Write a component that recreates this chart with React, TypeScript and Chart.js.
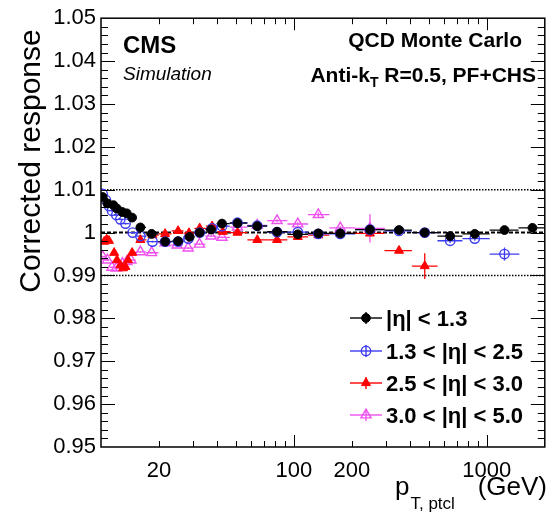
import React, { useEffect, useRef } from 'react';
import { Chart, registerables } from 'chart.js';

Chart.register(...registerables);

const FONT = "'Liberation Sans', Arial, Helvetica, sans-serif";

// ---------- data ----------
// |eta| < 1.3
const ptBarrel = [10.2, 10.8, 11.6, 12.1, 12.9, 13.6, 14.5, 16.0, 18.3, 21.5, 25.1, 28.8, 32.5, 37.2, 42.4, 51.0, 64.6, 81.8, 104.8, 133.9, 174, 248, 351, 477, 646, 867, 1236, 1726];
const respBarrel = [1.0083, 1.0068, 1.0064, 1.0056, 1.0048, 1.0045, 1.0035, 1.0012, 0.9997, 0.9979, 0.998, 0.999, 1.0, 1.0007, 1.0021, 1.0022, 1.0015, 1.0002, 0.9996, 0.9998, 0.9998, 1.0007, 1.0006, 1.0, 0.9992, 0.9997, 1.0006, 1.0011];
const errBarrel = [0.0002, 0.0002, 0.0002, 0.0002, 0.0002, 0.0002, 0.0002, 0.0002, 0.0002, 0.0002, 0.0002, 0.0002, 0.0002, 0.0002, 0.0002, 0.0002, 0.0002, 0.0002, 0.0002, 0.0002, 0.0002, 0.0002, 0.0002, 0.0002, 0.0003, 0.0003, 0.0003, 0.0005];

// 1.3 < |eta| < 2.5
const ptEndcap = [10.2, 10.6, 11.0, 11.4, 12.0, 12.6, 13.4, 14.6, 16.0, 18.5, 21.5, 25.1, 28.4, 32.5, 37.7, 42.4, 51.0, 64.6, 81.8, 104.8, 133.9, 174, 248, 351, 477, 646, 867, 1236];
const respEndcap = [1.009, 1.0076, 1.0062, 1.0051, 1.0041, 1.0031, 1.0021, 1.0, 0.9992, 0.9979, 0.9979, 0.9979, 0.9986, 1.0, 1.001, 1.0015, 1.0023, 1.0016, 1.0001, 1.0001, 0.9997, 0.9997, 1.0007, 1.0004, 1.0, 0.9981, 0.9986, 0.995];
const errEndcap = [0.0002, 0.0002, 0.0002, 0.0002, 0.0002, 0.0002, 0.0002, 0.0002, 0.0002, 0.0002, 0.0002, 0.0002, 0.0002, 0.0002, 0.0002, 0.0002, 0.0002, 0.0002, 0.0002, 0.0002, 0.0002, 0.0002, 0.0003, 0.0003, 0.0003, 0.0005, 0.0005, 0.0015];

// 2.5 < |eta| < 3.0
const ptTransition = [10.4, 10.7, 11.0, 11.7, 12.1, 12.6, 13.0, 13.4, 13.8, 14.5, 16.0, 18.5, 21.5, 25.1, 28.6, 32.5, 37.7, 42.8, 51.0, 64.6, 81.8, 104.8, 133.9, 174, 248, 351, 477];
const respTransition = [0.9979, 0.9984, 0.9981, 0.9953, 0.9936, 0.9924, 0.9917, 0.992, 0.9936, 0.9953, 0.9983, 0.9994, 0.9997, 1.0004, 0.9999, 1.001, 1.0015, 1.0002, 1.0, 0.9983, 0.9983, 0.999, 0.9994, 0.9998, 0.9998, 0.9958, 0.9922];
const errTransition = [0.0002, 0.0002, 0.0002, 0.0002, 0.0002, 0.0002, 0.0002, 0.0002, 0.0002, 0.0002, 0.0002, 0.0002, 0.0002, 0.0002, 0.0002, 0.0002, 0.0002, 0.0002, 0.0002, 0.0002, 0.0002, 0.0003, 0.0003, 0.0004, 0.0006, 0.0006, 0.003];

// 3.0 < |eta| < 5.0
const ptForward = [10.2, 10.8, 11.4, 12.0, 12.9, 13.6, 14.3, 16.0, 18.3, 21.5, 24.8, 28.3, 32.4, 37.2, 42.4, 51.0, 64.6, 81.8, 104.8, 133.9, 174, 248];
const respForward = [0.9944, 0.9936, 0.9919, 0.9917, 0.9928, 0.9932, 0.9936, 0.9955, 0.9953, 0.9976, 0.9971, 0.9964, 0.9973, 0.9992, 0.9989, 1.0013, 1.0017, 1.0028, 1.002, 1.0042, 1.0011, 1.001];
const errForward = [0.0002, 0.0002, 0.0002, 0.0002, 0.0002, 0.0002, 0.0002, 0.0002, 0.0002, 0.0002, 0.0002, 0.0002, 0.0002, 0.0002, 0.0002, 0.0003, 0.0003, 0.0003, 0.0004, 0.0005, 0.0004, 0.0033];

const seriesLabels = ['|η| < 1.3', '1.3 < |η| < 2.5', '2.5 < |η| < 3.0', '3.0 < |η| < 5.0'];

// axes
const X_MIN = 10;
const X_MAX = 2000;
const Y_MIN = 0.95;
const Y_MAX = 1.05;
const xTickValues = [20, 100, 200, 1000];
const xTickLabels = ['20', '100', '200', '1000'];
const yTickValues = [0.95, 0.96, 0.97, 0.98, 0.99, 1.0, 1.01, 1.02, 1.03, 1.04, 1.05];
const yTickLabels = ['0.95', '0.96', '0.97', '0.98', '0.99', '1', '1.01', '1.02', '1.03', '1.04', '1.05'];
const guideDotted = [0.99, 1.01];
const guideDashed = [1.0];

type Series = {
  label: string;
  x: number[];
  y: number[];
  err: number[];
  color: string;
  style: 'circle' | 'triangle';
  filled: boolean;
  radius: number;
};

const SERIES: Series[] = [
  { label: seriesLabels[0], x: ptBarrel, y: respBarrel, err: errBarrel, color: '#000000', style: 'circle', filled: true, radius: 4.4 },
  { label: seriesLabels[1], x: ptEndcap, y: respEndcap, err: errEndcap, color: '#3c3cf2', style: 'circle', filled: false, radius: 4.7 },
  { label: seriesLabels[2], x: ptTransition, y: respTransition, err: errTransition, color: '#ff0000', style: 'triangle', filled: true, radius: 5.2 },
  { label: seriesLabels[3], x: ptForward, y: respForward, err: errForward, color: '#ee50ee', style: 'triangle', filled: false, radius: 5.8 },
];

function drawMarker(ctx: CanvasRenderingContext2D, s: Series, x: number, y: number) {
  ctx.beginPath();
  if (s.style === 'circle') {
    ctx.arc(x, y, s.radius, 0, Math.PI * 2);
  } else {
    let rad = 0;
    ctx.moveTo(x + Math.sin(rad) * s.radius, y - Math.cos(rad) * s.radius);
    rad += (2 * Math.PI) / 3;
    ctx.lineTo(x + Math.sin(rad) * s.radius, y - Math.cos(rad) * s.radius);
    rad += (2 * Math.PI) / 3;
    ctx.lineTo(x + Math.sin(rad) * s.radius, y - Math.cos(rad) * s.radius);
    ctx.closePath();
  }
  if (s.filled) {
    ctx.fillStyle = s.color;
    ctx.fill();
  }
  ctx.strokeStyle = s.color;
  ctx.lineWidth = s.filled ? 1 : 1.4;
  ctx.stroke();
}

function seg(ctx: CanvasRenderingContext2D, x1: number, y1: number, x2: number, y2: number) {
  ctx.beginPath();
  ctx.moveTo(x1, y1);
  ctx.lineTo(x2, y2);
  ctx.stroke();
}

const cmsPlugin = {
  id: 'cmsDecor',
  beforeDatasetsDraw(chart: any) {
    const { ctx, chartArea: a, scales } = chart;
    const xs = scales.x;
    const ys = scales.y;
    ctx.save();
    ctx.beginPath();
    ctx.rect(a.left, a.top, a.right - a.left, a.bottom - a.top);
    ctx.clip();
    ctx.strokeStyle = '#000';
    ctx.lineWidth = 1.4;
    ctx.setLineDash([1.5, 1.5]);
    for (const v of guideDotted) {
      const py = ys.getPixelForValue(v);
      seg(ctx, a.left, py, a.right, py);
    }
    ctx.lineWidth = 2;
    ctx.setLineDash([4, 2]);
    for (const v of guideDashed) {
      const py = ys.getPixelForValue(v);
      seg(ctx, a.left, py, a.right, py);
    }
    ctx.setLineDash([]);
    // error bars: bin widths (geometric mid-points between neighbouring bins) and vertical errors
    for (let si = SERIES.length - 1; si >= 0; si--) {
      const s = SERIES[si];
      ctx.strokeStyle = s.color;
      ctx.lineWidth = 1.3;
      const n = s.x.length;
      for (let i = 0; i < n; i++) {
        const xc = s.x[i];
        const lo = i > 0 ? Math.sqrt(s.x[i - 1] * xc) : xc * Math.sqrt(xc / s.x[1]);
        const hi = i < n - 1 ? Math.sqrt(s.x[i + 1] * xc) : xc * Math.sqrt(xc / s.x[n - 2]);
        const py = ys.getPixelForValue(s.y[i]);
        const px = xs.getPixelForValue(xc);
        seg(ctx, xs.getPixelForValue(lo), py, xs.getPixelForValue(hi), py);
        seg(ctx, px, ys.getPixelForValue(s.y[i] - s.err[i]), px, ys.getPixelForValue(s.y[i] + s.err[i]));
      }
    }
    ctx.restore();
  },
  afterDraw(chart: any) {
    const { ctx, chartArea: a, scales } = chart;
    const xs = scales.x;
    const ys = scales.y;
    ctx.save();
    ctx.strokeStyle = '#000';
    ctx.lineWidth = 1;
    // y ticks (inward, both sides)
    for (let k = 1; k < 50; k++) {
      const v = Y_MIN + k * 0.002;
      const py = Math.round(ys.getPixelForValue(v)) + 0.5;
      const len = k % 5 === 0 ? 14 : 7;
      seg(ctx, a.left, py, a.left + len, py);
      seg(ctx, a.right, py, a.right - len, py);
    }
    // x ticks (log, inward, bottom and top)
    for (const d of [10, 100, 1000]) {
      for (let m = 1; m <= 9; m++) {
        const v = d * m;
        if (v <= X_MIN || v >= X_MAX) continue;
        const px = Math.round(xs.getPixelForValue(v)) + 0.5;
        const len = m === 1 ? 12 : 6;
        seg(ctx, px, a.bottom, px, a.bottom - len);
        seg(ctx, px, a.top, px, a.top + len);
      }
    }
    // frame
    ctx.lineWidth = 1.5;
    ctx.strokeRect(a.left, a.top, a.right - a.left, a.bottom - a.top);

    // texts
    ctx.fillStyle = '#000';
    ctx.textBaseline = 'alphabetic';
    ctx.textAlign = 'left';
    ctx.font = `bold 24px ${FONT}`;
    ctx.fillText('CMS', 123, 53);
    ctx.font = `italic 19px ${FONT}`;
    ctx.fillText('Simulation', 123, 80);

    ctx.textAlign = 'right';
    ctx.font = `bold 21px ${FONT}`;
    ctx.fillText('QCD Monte Carlo', 522, 47);
    // Anti-k_T R=0.5, PF+CHS
    const rest = ' R=0.5, PF+CHS';
    ctx.font = `bold 21px ${FONT}`;
    const wRest = ctx.measureText(rest).width;
    ctx.fillText(rest, 536, 82);
    ctx.font = `bold 14px ${FONT}`;
    const wT = ctx.measureText('T').width;
    ctx.fillText('T', 536 - wRest, 87);
    ctx.font = `bold 21px ${FONT}`;
    ctx.fillText('Anti-k', 536 - wRest - wT, 82);

    // legend
    const rows = [318, 351, 383, 415];
    SERIES.forEach((s, i) => {
      const ry = rows[i];
      ctx.strokeStyle = s.color;
      ctx.lineWidth = 1.4;
      seg(ctx, 350, ry, 382, ry);
      seg(ctx, 366, ry - 6, 366, ry + 6);
      drawMarker(ctx, s, 366, ry);
      ctx.fillStyle = '#000';
      ctx.textAlign = 'left';
      ctx.font = `bold 22px ${FONT}`;
      ctx.fillText(s.label, 386, ry + 8);
    });

    // y-axis title
    ctx.save();
    ctx.translate(40, 161);
    ctx.rotate(-Math.PI / 2);
    ctx.textAlign = 'center';
    ctx.font = `30px ${FONT}`;
    ctx.fillStyle = '#000';
    ctx.fillText('Corrected response', 0, 0);
    ctx.restore();

    // x-axis title
    ctx.fillStyle = '#000';
    ctx.textAlign = 'left';
    ctx.font = `26px ${FONT}`;
    ctx.fillText('p', 395, 495);
    const wp = ctx.measureText('p').width;
    ctx.font = `17px ${FONT}`;
    ctx.fillText('T, ptcl', 395 + wp + 1, 509);
    ctx.textAlign = 'right';
    ctx.font = `26px ${FONT}`;
    ctx.fillText('(GeV)', 547, 495);
    ctx.restore();
  },
};

export default function App() {
  const canvasRef = useRef<HTMLCanvasElement | null>(null);

  useEffect(() => {
    document.body.style.margin = '0';
    const canvas = canvasRef.current;
    if (!canvas) return;
    const chart = new Chart(canvas, {
      type: 'scatter',
      data: {
        datasets: SERIES.map((s) => ({
          label: s.label,
          data: s.x.map((v, i) => ({ x: v, y: s.y[i] })),
          pointStyle: s.style,
          pointRadius: s.radius,
          pointHoverRadius: s.radius,
          pointBackgroundColor: s.filled ? s.color : 'rgba(255,255,255,0)',
          pointBorderColor: s.color,
          pointBorderWidth: s.filled ? 1 : 1.4,
          showLine: false,
        })),
      },
      options: {
        responsive: false,
        maintainAspectRatio: false,
        animation: false,
        events: [],
        layout: { padding: { top: 18, right: 2, left: 0, bottom: 0 } },
        plugins: { legend: { display: false }, tooltip: { enabled: false } },
        scales: {
          x: {
            type: 'logarithmic',
            min: X_MIN,
            max: X_MAX,
            grid: { display: false, drawTicks: false },
            border: { display: false },
            afterBuildTicks: (s: any) => {
              s.ticks = xTickValues.map((v) => ({ value: v }));
            },
            afterFit: (s: any) => {
              s.height = 67;
            },
            ticks: {
              autoSkip: false,
              maxRotation: 0,
              color: '#000',
              padding: 11,
              font: { family: FONT, size: 22 },
              callback: (v: any, i: number) => xTickLabels[i] ?? '',
            },
          },
          y: {
            min: Y_MIN,
            max: Y_MAX,
            grid: { display: false, drawTicks: false },
            border: { display: false },
            afterBuildTicks: (s: any) => {
              s.ticks = yTickValues.map((v) => ({ value: v }));
            },
            afterFit: (s: any) => {
              s.width = 101;
            },
            ticks: {
              autoSkip: false,
              color: '#000',
              padding: 5,
              font: { family: FONT, size: 22 },
              callback: (v: any, i: number) => yTickLabels[i] ?? '',
            },
          },
        },
      },
      plugins: [cmsPlugin],
    } as any);
    return () => chart.destroy();
  }, []);

  return (
    <div style={{ width: 552, height: 514, background: '#fff' }}>
      <canvas ref={canvasRef} width={552} height={514} style={{ display: 'block' }} />
    </div>
  );
}
